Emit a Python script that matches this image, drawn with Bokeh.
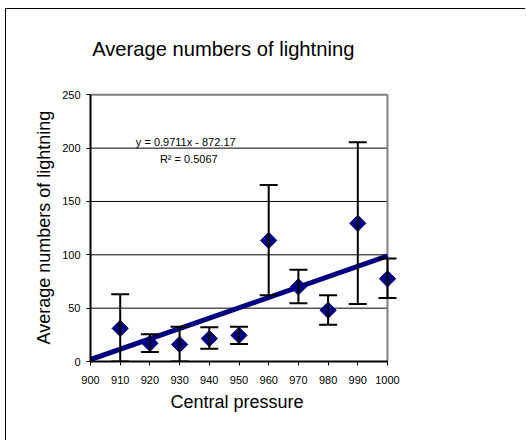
import numpy as np
from bokeh.plotting import figure
from bokeh.models import (ColumnDataSource, Whisker, TeeHead, Range1d, FixedTicker, Title)
from bokeh.core.properties import value
from bokeh.embed import file_html
from bokeh.resources import INLINE

# ---- data ----
pressure = [910, 920, 930, 940, 950, 960, 970, 980, 990, 1000]
avg_lightning = [31, 17, 16, 21.5, 24.5, 113.5, 70, 48, 129.5, 77.5]
err_upper = [63, 25.5, 32.5, 32, 32.5, 165.5, 86, 62, 205.5, 96.5]
err_lower = [0, 9, 0, 12, 16.5, 62, 54.5, 34.5, 54, 59.5]
fit_slope = 0.9711
fit_intercept = -872.17
fit_x = [900, 1000]
x_ticks = [900, 910, 920, 930, 940, 950, 960, 970, 980, 990, 1000]
y_ticks = [0, 50, 100, 150, 200, 250]
grid_levels = [50, 100, 150, 200]

title_text = "Average numbers of lightning"
x_label = "Central pressure"
y_label = "Average numbers of lightning"
eq_text = "y = 0.9711x  -  872.17"
r2_text = "R\u00b2 = 0.5067"

FONT = "Liberation Sans"
NAVY = "#000080"

# ---- layout (pixels) ----
W, H = 520, 432
ML, MB = 84, 80
x_px_per_100 = 297.0
y_px_per_250 = 266.7
x_lo, x_hi = x_ticks[0], x_ticks[-1]
y_lo, y_hi = y_ticks[0], y_ticks[-1]
x_end = x_lo + (W - ML) * (x_hi - x_lo) / x_px_per_100
y_end = y_lo + (H - MB) * (y_hi - y_lo) / y_px_per_250

p = figure(width=W, height=H, output_backend="svg", toolbar_location=None,
           x_range=Range1d(x_lo, x_end), y_range=Range1d(y_lo, y_end),
           min_border_left=ML, min_border_right=0,
           min_border_top=0, min_border_bottom=MB)
p.title.visible = False
p.background_fill_color = "white"
p.border_fill_color = "white"
p.outline_line_color = None
p.styles = {"margin-left": "5px", "margin-top": "8px",
            "border-left": "1px solid #000", "border-top": "1px solid #000"}

# axes
for ax in (p.xaxis[0], p.yaxis[0]):
    ax.axis_line_color = "black"
    ax.axis_line_width = 2
    ax.major_tick_line_color = "black"
    ax.major_tick_line_width = 1
    ax.major_tick_out = 4
    ax.major_tick_in = 0
    ax.minor_tick_line_color = None
    ax.major_label_text_font = FONT
    ax.major_label_text_font_size = "11px"
    ax.major_label_text_color = "black"

p.xaxis.ticker = FixedTicker(ticks=x_ticks)
p.yaxis.ticker = FixedTicker(ticks=y_ticks)
p.xaxis.bounds = (x_lo, x_hi)
p.yaxis.bounds = (y_lo, y_hi)
p.xaxis.major_label_standoff = 10
p.yaxis.major_label_standoff = 6

# axis titles, positioned over the bounded part of the axes
p.add_layout(Title(text=x_label, align="left", offset=80, text_font=FONT,
                   text_font_size="18px", text_font_style="normal",
                   text_color="black", standoff=7), "below")
p.add_layout(Title(text=y_label, align="left", offset=17, text_font=FONT,
                   text_font_size="18px", text_font_style="normal",
                   text_color="black", standoff=12), "left")

p.xgrid.grid_line_color = None
p.ygrid.grid_line_color = None

# horizontal grid lines inside the plot area
p.segment(x0=[x_lo] * len(grid_levels), x1=[x_hi] * len(grid_levels),
          y0=grid_levels, y1=grid_levels, line_color="black", line_width=1)
# gray plot-area border (top and right)
p.segment(x0=[x_lo, x_hi], x1=[x_hi, x_hi], y0=[y_hi, y_lo], y1=[y_hi, y_hi],
          line_color="#808080", line_width=2)

src = ColumnDataSource(dict(x=pressure, y=avg_lightning, up=err_upper, lo=err_lower))

# error bars
wh = Whisker(source=src, base="x", upper="up", lower="lo", dimension="height",
             line_color="black", line_width=2, level="glyph",
             upper_head=TeeHead(size=18, line_color="black", line_width=2),
             lower_head=TeeHead(size=18, line_color="black", line_width=2))
p.add_layout(wh)

# markers
p.scatter("x", "y", source=src, marker="square", angle=np.pi / 4, size=11.5,
          fill_color=NAVY, line_color=NAVY)

# trend line
fit_y = [fit_slope * xv + fit_intercept for xv in fit_x]
p.line(fit_x, fit_y, line_color=NAVY, line_width=5)

# equation text
p.text(x=[933.1, 933.1], y=[205.8, 190.0], text=[eq_text, r2_text],
       text_font=value(FONT), text_font_size="11px", text_align="center",
       text_baseline="alphabetic", text_color="black")

# title
p.text(x=[944.7], y=[293.1], text=[title_text], text_font=value(FONT),
       text_font_size="20.2px", text_align="center",
       text_baseline="alphabetic", text_color="black")

open("out.html", "w").write(file_html(p, INLINE))
